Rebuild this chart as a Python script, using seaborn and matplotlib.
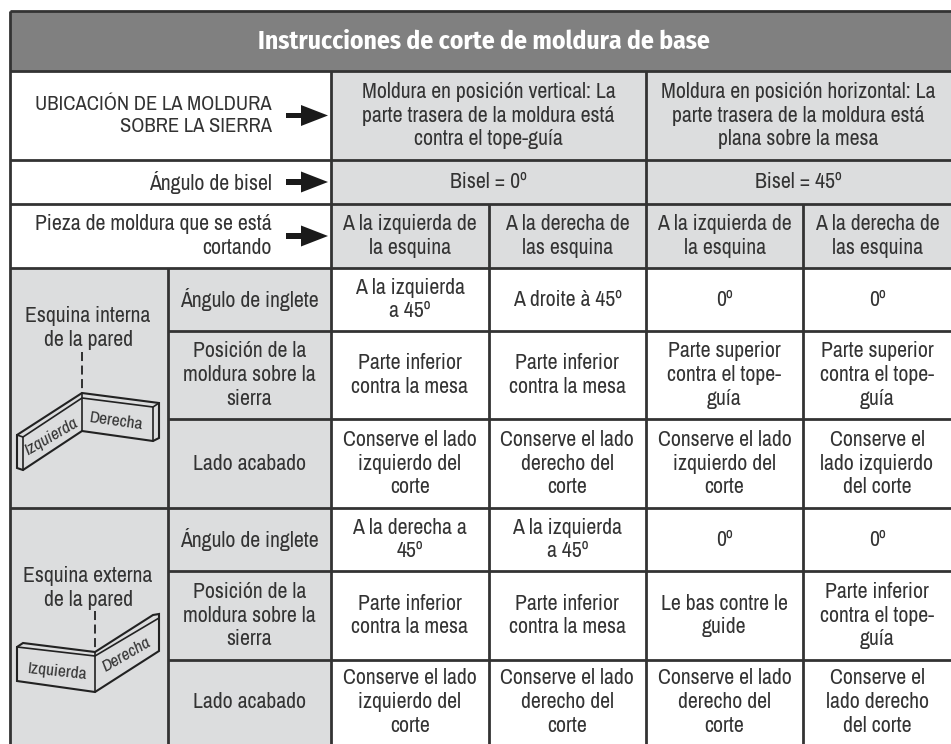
import matplotlib
matplotlib.use("Agg")
import matplotlib.pyplot as plt
import seaborn as sns
from matplotlib.patches import Rectangle, Polygon

# Table text
title = "Instrucciones de corte de moldura de base"
header_labels = ["UBICACIÓN DE LA MOLDURA\nSOBRE LA SIERRA", "Ángulo de bisel",
                 "Pieza de moldura que se está\ncortando"]
position_labels = ["Moldura en posición vertical: La\nparte trasera de la moldura está\ncontra el tope-guía",
                   "Moldura en posición horizontal: La\nparte trasera de la moldura está\nplana sobre la mesa"]
bevel_labels = ["Bisel = 0º", "Bisel = 45º"]
piece_labels = ["A la izquierda de\nla esquina", "A la derecha de\nlas esquina",
                "A la izquierda de\nla esquina", "A la derecha de\nlas esquina"]
row_names = ["Ángulo de inglete", "Posición de la\nmoldura sobre la\nsierra", "Lado acabado"]
corner_names = ["Esquina interna\nde la pared", "Esquina externa\nde la pared"]
inner_rows = [
    ["A la izquierda\na 45º", "A droite à 45º", "0º", "0º"],
    ["Parte inferior\ncontra la mesa", "Parte inferior\ncontra la mesa",
     "Parte superior\ncontra el tope-\nguía", "Parte superior\ncontra el tope-\nguía"],
    ["Conserve el lado\nizquierdo del\ncorte", "Conserve el lado\nderecho del\ncorte",
     "Conserve el lado\nizquierdo del\ncorte", "Conserve el\nlado izquierdo\ndel corte"],
]
outer_rows = [
    ["A la derecha a\n45º", "A la izquierda\na 45º", "0º", "0º"],
    ["Parte inferior\ncontra la mesa", "Parte inferior\ncontra la mesa",
     "Le bas contre le\nguide", "Parte inferior\ncontra el tope-\nguía"],
    ["Conserve el lado\nizquierdo del\ncorte", "Conserve el lado\nderecho del\ncorte",
     "Conserve el lado\nderecho del\ncorte", "Conserve el\nlado derecho\ndel corte"],
]

# Grid edges in pixels
col_x = [10, 167.5, 331, 488.5, 646, 803, 951]
row_y = [11, 71, 160, 204, 268, 331, 419, 508, 571, 660, 744]

INK = "#333333"
GRAY = "#dcddde"
HEAD = "#808080"
FONT = ["Archivo Narrow", "DejaVu Sans"]
SIZE = 15.7
LW = 2.0

sns.set_theme(style="white")
plt.rcParams["font.family"] = FONT

fig = plt.figure(figsize=(9.51, 7.44), dpi=100)
ax = fig.add_axes([0, 0, 1, 1])
ax.set_xlim(0, 951)
ax.set_ylim(744, 0)
ax.axis("off")


def fill(x0, y0, x1, y1, color):
    ax.add_patch(Rectangle((x0, y0), x1 - x0, y1 - y0, fc=color, ec="none", zorder=1))


def hline(y, x0=col_x[0], x1=col_x[-1]):
    ax.plot([x0, x1], [y, y], color=INK, lw=LW, solid_capstyle="butt", zorder=3)


def vline(x, y0, y1):
    ax.plot([x, x], [y0, y1], color=INK, lw=LW, solid_capstyle="butt", zorder=3)


def label(x, y, s, ha="center", **kw):
    ax.text(x, y, s, ha=ha, va="center", ma=ha, color=INK, fontsize=kw.pop("fontsize", SIZE),
            linespacing=1.24, zorder=4, **kw)


def arrow(y):
    ax.add_patch(Rectangle((286, y - 2.7), 18, 5.4, fc="#1a1a1a", ec="none", zorder=4))
    ax.add_patch(Polygon([(301, y - 10.5), (328, y), (301, y + 10.5)], fc="#1a1a1a", ec="none", zorder=4))


def stroke(points, lw=1.5, **kw):
    xs, ys = zip(*points)
    ax.plot(xs, ys, color="#222222", lw=lw, solid_joinstyle="miter", zorder=4, **kw)


# Fills
fill(col_x[0], row_y[0], col_x[-1], row_y[1], HEAD)
fill(col_x[2], row_y[1], col_x[-1], row_y[4], GRAY)
fill(col_x[0], row_y[4], col_x[2], row_y[-1], GRAY)

# Grid lines
for y in [row_y[0], row_y[1], row_y[2], row_y[3], row_y[4], row_y[7]]:
    hline(y)
for y in [row_y[5], row_y[6], row_y[8], row_y[9]]:
    hline(y, col_x[1])
vline(col_x[0], row_y[0], row_y[-1])
vline(col_x[2], row_y[1], row_y[-1])
vline(col_x[1], row_y[4], row_y[-1])
vline(col_x[4], row_y[1], row_y[-1])
vline(col_x[3], row_y[3], row_y[-1])
vline(col_x[5], row_y[3], row_y[-1])

# Title
ax.text(483.5, 42, title, ha="center", va="center", color="white", fontsize=18.4, fontweight="bold",
        family=["Fira Sans Condensed", "DejaVu Sans"], zorder=4)

# Left header cells with arrows
for i, s in enumerate(header_labels):
    cy = (row_y[i + 1] + row_y[i + 2]) / 2
    label(272, cy, s, ha="right", fontsize=14.8 if i == 0 else SIZE)
    arrow(cy)

# Top right header cells
for i, s in enumerate(position_labels):
    cx = (col_x[2 + 2 * i] + col_x[4 + 2 * i]) / 2
    label(cx, (row_y[1] + row_y[2]) / 2, s)
    label(cx, (row_y[2] + row_y[3]) / 2, bevel_labels[i])
for i, s in enumerate(piece_labels):
    label((col_x[2 + i] + col_x[3 + i]) / 2, (row_y[3] + row_y[4]) / 2, s)

# Body rows
for start, rows in [(4, inner_rows), (7, outer_rows)]:
    for r, cells in enumerate(rows):
        cy = (row_y[start + r] + row_y[start + r + 1]) / 2
        label((col_x[1] + col_x[2]) / 2, cy, row_names[r])
        for c, s in enumerate(cells):
            label((col_x[2 + c] + col_x[3 + c]) / 2, cy, s)

# Inside corner sketch
label(88, 328, corner_names[0])
stroke([(82, 352), (82, 393)], lw=1.3, linestyle=(0, (5, 2.5)))
stroke([(17, 435), (82, 393), (159, 403), (159, 438), (153, 441), (82, 431), (23, 470), (17, 468), (17, 435)])
stroke([(23, 437), (82, 398), (153, 407), (159, 403)], lw=1.2)
stroke([(17, 435), (23, 437), (23, 470)], lw=1.2)
stroke([(82, 393), (82, 431)], lw=1.2)
stroke([(153, 407), (153, 441)], lw=1.2)
label(51, 437, "Izquierda", rotation=30, rotation_mode="anchor", fontsize=12.5, style="italic")
label(116, 421, "Derecha", rotation=-8, rotation_mode="anchor", fontsize=12.5)

# Outside corner sketch
label(88, 588, corner_names[1])
stroke([(95, 611), (95, 652)], lw=1.3, linestyle=(0, (5, 2.5)))
stroke([(17, 647), (23, 643), (95, 652), (153, 615), (159, 614), (159, 651), (95, 692), (17, 681), (17, 647)])
stroke([(17, 647), (95, 656), (159, 618)], lw=1.2)
stroke([(95, 652), (95, 692)], lw=1.2)
label(57, 672, "Izquierda", rotation=-6, rotation_mode="anchor", fontsize=12.5)
label(126, 655, "Derecha", rotation=30, rotation_mode="anchor", fontsize=12.5, style="italic")

fig.savefig("out.png", dpi=100)
